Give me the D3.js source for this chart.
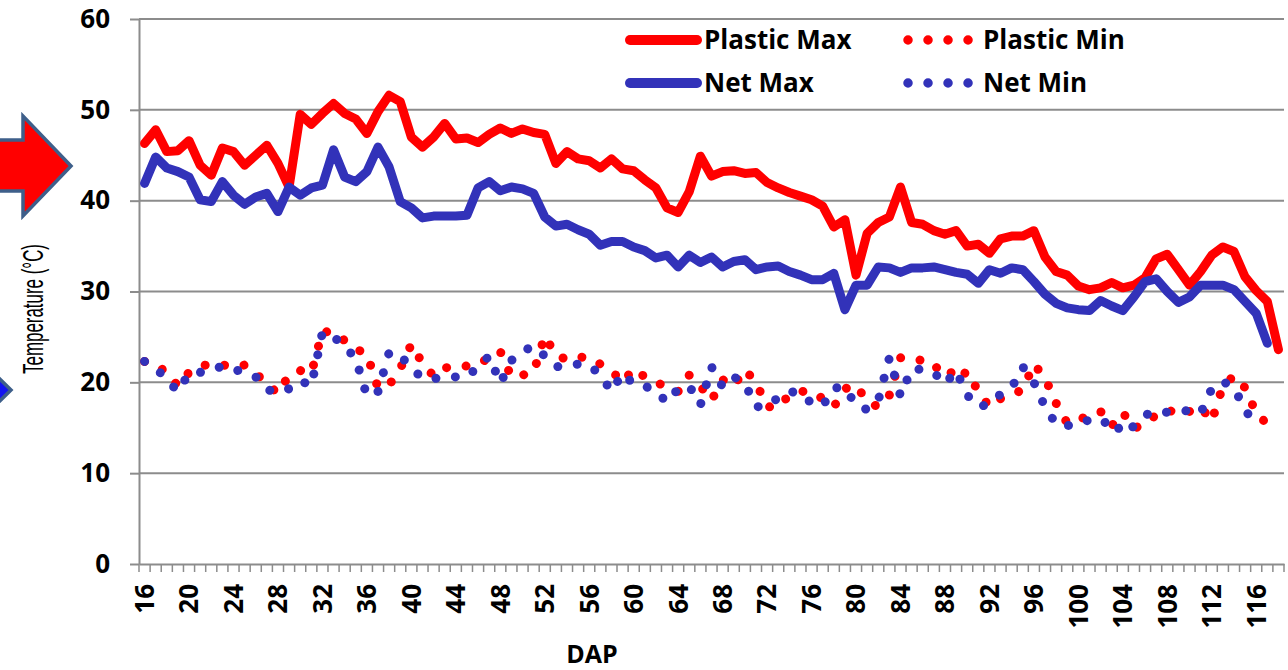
<!DOCTYPE html>
<html><head><meta charset="utf-8">
<script src="https://cdn.jsdelivr.net/npm/d3@7"></script>
<style>
html,body{margin:0;padding:0;background:#fff;}
svg{display:block;}
</style></head>
<body>
<svg id="chart" width="1288" height="670"></svg>
<script>
// ---------- data ----------
const days = d3.range(16, 119); // DAP categories 16..118
const tickLabels = [16,20,24,28,32,36,40,44,48,52,56,60,64,68,72,76,80,84,88,92,96,100,104,108,112,116];
const yTicks = [0,10,20,30,40,50,60];
const seriesNames = ["Plastic Max","Plastic Min","Net Max","Net Min"];

const plasticMax = [46.3,47.8,45.4,45.5,46.6,43.9,42.8,45.8,45.4,43.9,
  45.0,46.1,44.1,41.5,49.5,48.4,49.6,50.7,49.6,49.0,
  47.4,49.8,51.6,50.9,47.0,45.9,47.0,48.5,46.8,46.9,
  46.4,47.3,48.0,47.4,47.9,47.5,47.3,44.1,45.4,44.6,
  44.4,43.6,44.6,43.5,43.3,42.3,41.4,39.2,38.7,41.0,
  44.9,42.7,43.2,43.3,43.0,43.1,42.0,41.4,40.9,40.5,
  40.1,39.4,37.1,37.9,31.8,36.4,37.6,38.2,41.5,37.6,
  37.4,36.7,36.3,36.7,35.0,35.2,34.2,35.8,36.1,36.1,
  36.7,33.8,32.2,31.8,30.6,30.2,30.4,31.0,30.4,30.7,
  31.5,33.6,34.1,32.4,30.7,32.2,34.0,34.9,34.4,31.6,
  30.1,28.9,23.6];

const netMax = [41.9,44.8,43.6,43.2,42.6,40.1,39.9,42.1,40.6,39.6,
  40.4,40.8,38.8,41.5,40.6,41.4,41.7,45.6,42.6,42.1,
  43.2,45.9,43.7,39.9,39.2,38.1,38.3,38.3,38.3,38.4,
  41.4,42.1,41.1,41.5,41.3,40.8,38.2,37.2,37.4,36.8,
  36.3,35.1,35.5,35.5,34.9,34.5,33.7,34.0,32.7,34.0,
  33.2,33.8,32.7,33.3,33.5,32.4,32.7,32.8,32.2,31.8,
  31.3,31.3,32.0,28.0,30.7,30.7,32.7,32.6,32.1,32.6,
  32.6,32.7,32.4,32.1,31.9,30.9,32.4,32.0,32.6,32.4,
  31.1,29.7,28.7,28.2,28.0,27.9,29.0,28.4,27.9,29.4,
  31.1,31.4,30.0,28.8,29.4,30.7,30.7,30.7,30.2,28.9,
  27.6,24.3];

const plasticMin = [22.3,21.9,21.1,19.6,21.1,21.8,22.0,21.9,21.8,21.9,
  21.0,19.8,18.8,20.8,21.3,21.0,25.6,25.5,24.6,23.7,
  23.1,19.4,19.7,21.5,24.2,22.1,20.7,21.6,21.7,21.8,
  22.0,22.7,23.4,20.6,20.8,21.1,25.1,23.0,22.5,22.8,
  22.7,22.0,21.3,20.0,21.5,20.6,20.0,19.5,19.0,20.8,
  19.6,18.0,20.3,19.6,21.4,20.0,17.3,17.3,18.6,19.0,
  19.0,18.2,17.3,19.3,19.7,17.9,17.3,18.6,22.7,22.6,
  22.4,21.5,22.0,20.3,21.2,19.0,17.3,18.2,18.6,19.2,
  22.0,20.5,17.7,15.5,15.9,16.3,16.8,15.2,16.7,14.9,
  15.5,16.4,17.0,16.5,16.8,17.3,15.7,19.6,20.7,19.4,
  16.6,15.4];

const netMin = [22.3,21.6,20.3,19.0,21.0,21.1,21.3,21.8,21.5,21.0,
  20.6,19.2,18.9,19.3,20.2,19.6,25.5,25.0,24.0,22.6,
  18.5,19.0,23.3,23.0,21.5,20.5,20.4,20.6,20.6,20.6,
  21.7,22.9,19.9,22.4,23.4,24.0,22.9,21.7,21.9,22.0,
  21.9,20.8,19.0,21.0,19.8,19.6,19.0,17.8,19.3,19.6,
  17.5,21.7,19.5,20.6,19.9,17.3,17.4,18.3,19.0,18.8,
  17.7,17.4,19.4,19.4,17.5,17.0,18.0,22.7,18.5,21.5,
  21.4,21.1,19.8,21.3,18.6,17.3,17.6,18.7,19.4,21.7,
  20.0,17.3,15.4,15.2,15.7,15.8,15.3,16.0,14.3,15.2,
  16.4,16.8,16.7,16.8,16.9,16.6,19.3,20.1,19.4,17.0,
  15.2];

// ---------- setup ----------
const RED = "#ff0000", BLUE = "#3232b9", GRID = "#8c8c8c";
const FONT = "'Comic Sans MS','Open Sans',sans-serif";
const svg = d3.select("#chart");

const x = d3.scaleBand().domain(days).range([139, 1284]).padding(0);
const y = d3.scaleLinear().domain([0, 60]).range([564, 19]);
const cx = d => x(d) + x.bandwidth() / 2;

// ---------- decorative arrows (left edge) ----------
svg.append("polygon")
  .attr("points", "-10,140 23,140 23,116 71,166 23,216 23,191 -10,191")
  .attr("fill", "#ff0000").attr("stroke", "#3e5f8a").attr("stroke-width", 3.5)
  .attr("stroke-linejoin", "miter");
svg.append("polygon")
  .attr("points", "-40,372 -30,372 -30,350 11,390 -30,430 -30,408 -40,408")
  .attr("fill", "#1414f0").attr("stroke", "#3e5f8a").attr("stroke-width", 3.5);

// ---------- gridlines ----------
svg.append("g").selectAll("line")
  .data(yTicks.filter(t => t > 0))
  .join("line")
  .attr("x1", 139).attr("x2", 1284)
  .attr("y1", d => y(d)).attr("y2", d => y(d))
  .attr("stroke", GRID).attr("stroke-width", 2);

// ---------- y axis ----------
const gy = svg.append("g").attr("transform", "translate(139,0)")
  .call(d3.axisLeft(y).tickValues(yTicks).tickSize(9).tickPadding(20).tickSizeOuter(0));
gy.select(".domain").attr("stroke", GRID).attr("stroke-width", 2);
gy.selectAll(".tick line").attr("stroke", GRID).attr("stroke-width", 2);
gy.selectAll(".tick text")
  .attr("font-family", FONT).attr("font-weight", 700).attr("font-size", 26)
  .attr("fill", "#000");

// ---------- x axis ----------
const gx = svg.append("g").attr("transform", "translate(0,564)")
  .call(d3.axisBottom(x).tickValues(tickLabels).tickSize(0).tickSizeOuter(0).tickPadding(0));
gx.select(".domain").attr("stroke", GRID).attr("stroke-width", 2);
gx.selectAll(".tick line").remove();
gx.selectAll(".tick text")
  .attr("transform", "rotate(-90)")
  .attr("x", -20).attr("y", 0).attr("dy", "0.36em")
  .attr("text-anchor", "end")
  .attr("font-family", FONT).attr("font-weight", 700).attr("font-size", 26)
  .attr("fill", "#000");
// category boundary tick marks
gx.append("g").selectAll("line")
  .data(days.map(d => x(d)).concat([x.range()[1]]))
  .join("line")
  .attr("x1", d => d).attr("x2", d => d)
  .attr("y1", 0).attr("y2", 8)
  .attr("stroke", GRID).attr("stroke-width", 1.5);

// ---------- axis titles ----------
svg.append("text")
  .attr("x", 592).attr("y", 663)
  .attr("text-anchor", "middle")
  .attr("font-family", FONT).attr("font-weight", 700).attr("font-size", 25)
  .text("DAP");
svg.append("text")
  .attr("transform", "translate(43,309) rotate(-90)")
  .attr("text-anchor", "middle")
  .attr("font-family", "'Liberation Sans Narrow','Arial Narrow','Liberation Sans',Arial,sans-serif")
  .attr("font-size", 29)
  .attr("textLength", 130).attr("lengthAdjust", "spacingAndGlyphs")
  .text("Temperature (°C)");

// ---------- series ----------
const toPts = arr => arr.map((v, i) => ({ day: days[i], v }));
const line = d3.line().x(d => cx(d.day)).y(d => y(d.v));

const series = [
  { name: seriesNames[0], data: plasticMax, color: RED, dotted: false },
  { name: seriesNames[1], data: plasticMin, color: RED, dotted: true },
  { name: seriesNames[2], data: netMax, color: BLUE, dotted: false },
  { name: seriesNames[3], data: netMin, color: BLUE, dotted: true }
];

series.forEach(s => {
  const p = svg.append("path")
    .datum(toPts(s.data))
    .attr("d", line)
    .attr("fill", "none")
    .attr("stroke", s.color)
    .attr("stroke-width", 9)
    .attr("stroke-linejoin", "round")
    .attr("stroke-linecap", "round");
  if (s.dotted) p.attr("stroke-dasharray", "0.01 19.5");
});

// ---------- legend ----------
const legend = svg.append("g");
const legendLayout = [
  { s: series[0], x: 630, y: 40 },
  { s: series[1], x: 908, y: 40 },
  { s: series[2], x: 630, y: 83 },
  { s: series[3], x: 908, y: 83 }
];
legendLayout.forEach(L => {
  if (L.s.dotted) {
    legend.append("path")
      .attr("d", `M${L.x},${L.y}H${L.x + 61}`)
      .attr("stroke", L.s.color).attr("stroke-width", 9.5)
      .attr("stroke-linecap", "round").attr("stroke-dasharray", "0.01 20");
    legend.append("text")
      .attr("x", L.x + 75).attr("y", L.y).attr("dy", "0.36em")
      .attr("font-family", FONT).attr("font-weight", 700).attr("font-size", 26)
      .text(L.s.name);
  } else {
    legend.append("path")
      .attr("d", `M${L.x},${L.y}H${L.x + 67}`)
      .attr("stroke", L.s.color).attr("stroke-width", 10)
      .attr("stroke-linecap", "round");
    legend.append("text")
      .attr("x", L.x + 74).attr("y", L.y).attr("dy", "0.36em")
      .attr("font-family", FONT).attr("font-weight", 700).attr("font-size", 26)
      .text(L.s.name);
  }
});
</script>
</body></html>
